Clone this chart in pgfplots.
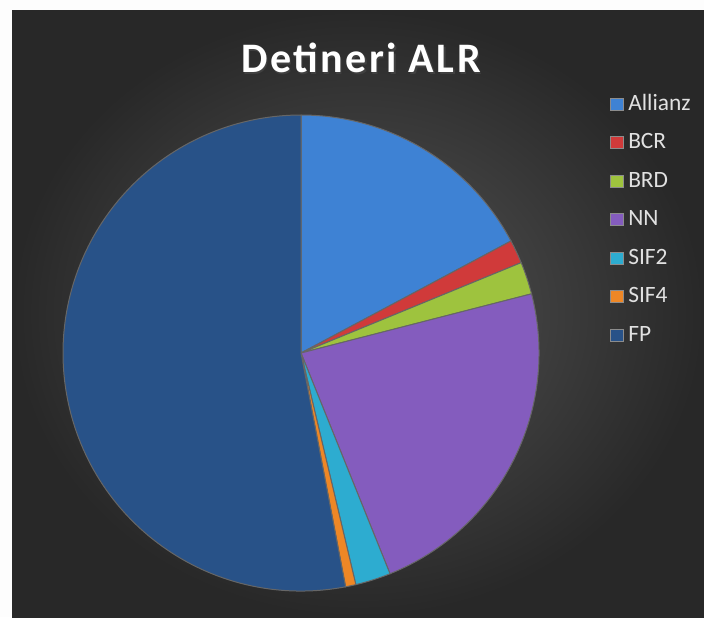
\documentclass[border=0pt]{standalone}
\usepackage{fontspec}
\setmainfont{Carlito}
\newfontfamily\titlefont[LetterSpace=6]{Carlito}
\usepackage{pgfplots}
\pgfplotsset{compat=1.18}
\definecolor{cAllianz}{RGB}{62,130,212}
\definecolor{cBCR}{RGB}{208,58,58}
\definecolor{cBRD}{RGB}{158,195,62}
\definecolor{cNN}{RGB}{132,92,190}
\definecolor{cSIF2}{RGB}{45,172,208}
\definecolor{cSIF4}{RGB}{238,135,38}
\definecolor{cFP}{RGB}{40,82,136}
\definecolor{bgin}{RGB}{86,86,86}
\definecolor{bgout}{RGB}{40,40,40}
\definecolor{margin}{RGB}{253,253,253}
\definecolor{legtext}{RGB}{225,225,225}

\begin{document}
\begin{tikzpicture}[x=0.5pt,y=-0.5pt]
% canvas in reference pixels
\fill[margin] (0,0) rectangle (704,617);
\fill[bgout] (12,10) rectangle (704,617);
\shade[inner color=bgin, outer color=bgout] (12,10) rectangle (704,617);
\node[anchor=base, text=black!75, font=\titlefont\fontsize{21}{25}\selectfont\bfseries] at (362.5,74) {Detineri ALR};
\node[anchor=base, text=white, font=\titlefont\fontsize{21}{25}\selectfont\bfseries] at (361,72) {Detineri ALR};
\coordinate (piecenter) at (301,353);

\begin{axis}[
    at={(piecenter)}, anchor=center,
    scale only axis, width=238pt, height=238pt,
    xmin=-1, xmax=1, ymin=-1, ymax=1,
    hide axis, clip=false,
    legend cell align=left,
    legend style={at={(1.135,1.053)}, anchor=north west, draw=none, fill=none,
        font=\fontsize{11.7}{13}\selectfont, text=legtext,
        nodes={inner sep=0pt, text height=8pt, text depth=2pt},
        row sep=9.25pt, column sep=2.5pt},
    legend image code/.code={\fill[#1,draw=black!45,line width=0.3pt] (0pt,-3pt) rectangle (6.5pt,3pt);},
]
% shares in percent, clockwise from 12 o'clock
\pgfplotsextra{
  \xdef\startang{90}
  \foreach \val/\col in {17.2/cAllianz, 1.6/cBCR, 2.2/cBRD, 22.9/cNN, 2.4/cSIF2, 0.7/cSIF4, 53.0/cFP}{
    \pgfmathsetmacro\endang{\startang-3.6*\val}
    \fill[\col, draw=black!60, line width=0.5pt] (axis cs:0,0) -- ++(\startang:119pt)
        arc[start angle=\startang, end angle=\endang, radius=119pt] -- cycle;
    \xdef\startang{\endang}
  }
}
\addlegendimage{fill=cAllianz}\addlegendentry{Allianz}
\addlegendimage{fill=cBCR}\addlegendentry{BCR}
\addlegendimage{fill=cBRD}\addlegendentry{BRD}
\addlegendimage{fill=cNN}\addlegendentry{NN}
\addlegendimage{fill=cSIF2}\addlegendentry{SIF2}
\addlegendimage{fill=cSIF4}\addlegendentry{SIF4}
\addlegendimage{fill=cFP}\addlegendentry{FP}
\end{axis}
\pgfresetboundingbox
\useasboundingbox (0,0) rectangle (704,617);
\end{tikzpicture}
\end{document}
